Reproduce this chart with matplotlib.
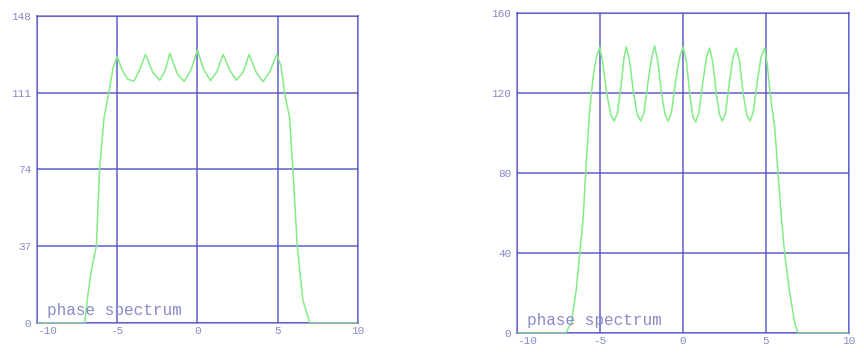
import matplotlib

matplotlib.use("Agg")
import matplotlib.pyplot as plt

# left panel: phase spectrum, amplitude axis 0..148
left_x = [-10, -7.03, -6.82, -6.6, -6.3, -6.1, -5.82, -5.57, -5.26, -5.0,
          -4.7, -4.35, -3.96, -3.6, -3.24, -2.8, -2.35, -2.0, -1.72, -1.25,
          -0.83, -0.4, 0.0, 0.4, 0.81, 1.2, 1.6, 2.0, 2.43, 2.85, 3.22,
          3.65, 4.08, 4.5, 4.94, 5.2, 5.43, 5.74, 5.95, 6.22, 6.57, 6.99, 10]
left_y = [0, 0, 14, 26, 37, 74, 99, 109, 123, 128.6,
          122, 117.5, 116.5, 122, 129.5, 121, 117, 122, 130, 120,
          116.5, 122, 131.5, 122, 116.8, 121, 129.5, 122, 117, 121, 129.5,
          121, 116.3, 121, 129.5, 124, 110.6, 99, 73.6, 36.7, 11, 0, 0]
left_yticks = [0, 37, 74, 111, 148]

# right panel: phase spectrum, amplitude axis 0..160
right_x = [-10, -7.07, -6.73, -6.43, -6.22, -6.02, -5.82, -5.62, -5.42, -5.22, -5.02,
           -4.85, -4.6, -4.35, -4.16, -3.95, -3.7, -3.55, -3.41,
           -3.22, -2.98, -2.75, -2.55, -2.35, -2.1, -1.88, -1.71,
           -1.52, -1.3, -1.08, -0.9, -0.7, -0.45, -0.2, 0.0,
           0.2, 0.4, 0.58, 0.76, 0.95, 1.2, 1.42, 1.6,
           1.78, 2.0, 2.2, 2.37, 2.56, 2.8, 3.02, 3.2,
           3.4, 3.62, 3.84, 4.02, 4.22, 4.48, 4.7, 4.92,
           5.08, 5.22, 5.37, 5.52, 5.72, 5.92, 6.12, 6.43, 6.73, 6.93, 10]
right_y = [0, 0, 5, 21.7, 40, 56.7, 86.7, 111.7, 128, 138, 143,
           136, 120, 109, 106, 110, 126, 138, 143,
           136, 120, 109, 106, 110, 126, 138, 143.5,
           136, 120, 109, 106, 110, 126, 138, 143,
           136, 120, 108.5, 105.5, 110, 126, 138, 142.5,
           136, 120, 109, 106, 110, 126, 138, 142.5,
           136, 120, 109, 106, 110, 126, 138, 142.5,
           134, 121.7, 112, 103, 80, 58, 40, 20, 5, 0, 0]
right_yticks = [0, 40, 80, 120, 160]

x_ticks = [-10, -5, 0, 5, 10]
x_labels = ["-10", "-5", "0", "5", "10"]
title = "phase spectrum"

GRID = "#4a4ac6"
LABEL = "#8a8ac8"
CURVE = "#84ec84"


def painel(ax, xs, ys, yticks):
    ax.plot(xs, ys, color=CURVE, lw=1.1, zorder=3)
    ax.set_xlim(-10, 10)
    ax.set_ylim(yticks[0], yticks[-1])
    ax.set_xticks(x_ticks)
    ax.set_xticklabels(x_labels)
    ax.set_yticks(yticks)
    ax.set_yticklabels([str(v) for v in yticks])
    ax.grid(True, color=GRID, alpha=0.75, lw=1.3)
    for s in ax.spines.values():
        s.set_color(GRID)
        s.set_alpha(0.6)
        s.set_linewidth(1.3)
    ax.tick_params(length=0, pad=2, labelsize=8, labelcolor=LABEL)
    ax.tick_params(axis="y", pad=4)
    for t in ax.get_xticklabels() + ax.get_yticklabels():
        t.set_family("Liberation Mono")
    # o "-10" fica encostado na borda, como no original
    ax.get_xticklabels()[0].set_ha("left")
    ax.text(0.03, 0.015, title, transform=ax.transAxes, family="Liberation Mono",
            fontsize=11.5, color=LABEL, va="bottom", ha="left")


fig = plt.figure(figsize=(8.64, 3.56), dpi=100)
ax1 = fig.add_axes([0.0428, 0.0927, 0.3715, 0.8624])
ax2 = fig.add_axes([0.5984, 0.0646, 0.3843, 0.8989])
painel(ax1, left_x, left_y, left_yticks)
painel(ax2, right_x, right_y, right_yticks)

fig.savefig("out.png", dpi=100)
